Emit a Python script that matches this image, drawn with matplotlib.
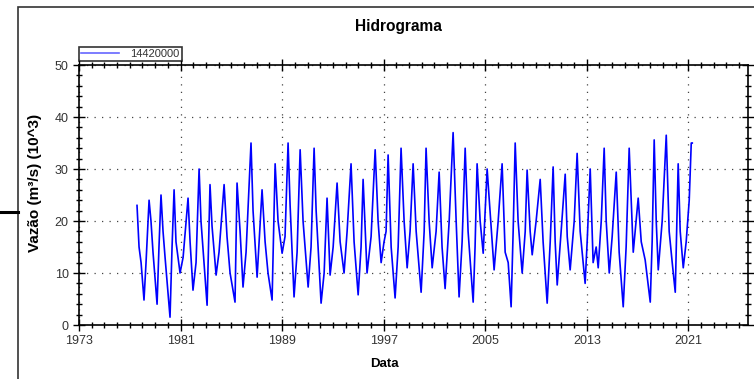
import matplotlib
matplotlib.use("Agg")
import matplotlib.pyplot as plt
from matplotlib.ticker import MultipleLocator
from matplotlib.patches import Rectangle
from matplotlib.lines import Line2D

plt.rcParams['font.family'] = ['Liberation Sans', 'DejaVu Sans']

# estacao 14420000 - vazao (m3/s, x 10^3)
anos = [1977.57, 1977.73, 1977.89, 1978.12, 1978.28, 1978.52, 1978.67, 1978.83, 1979.15, 1979.30,
        1979.46, 1979.62, 1979.78, 1980.17, 1980.33, 1980.49, 1980.64, 1980.96, 1981.20, 1981.59,
        1981.75, 1981.98, 1982.22, 1982.46, 1982.61, 1982.85, 1983.09, 1983.17, 1983.32, 1983.48,
        1983.80, 1984.03, 1984.43, 1984.66, 1984.90, 1985.29, 1985.45, 1985.69, 1985.92, 1986.16,
        1986.55, 1986.71, 1987.03, 1987.42, 1987.66, 1987.89, 1988.21, 1988.45, 1988.68, 1989.00,
        1989.23, 1989.47, 1989.63, 1989.94, 1990.18, 1990.42, 1990.65, 1991.05, 1991.28, 1991.52,
        1991.68, 1992.07, 1992.31, 1992.54, 1992.78, 1993.02, 1993.33, 1993.57, 1993.88, 1994.12,
        1994.43, 1994.67, 1994.99, 1995.22, 1995.38, 1995.69, 1996.01, 1996.33, 1996.56, 1996.80,
        1997.03, 1997.19, 1997.35, 1997.59, 1997.90, 1998.14, 1998.37, 1998.61, 1998.85, 1999.08,
        1999.32, 1999.56, 1999.95, 2000.19, 2000.34, 2000.58, 2000.82, 2001.13, 2001.37, 2001.60,
        2001.84, 2002.16, 2002.47, 2002.71, 2002.94, 2003.18, 2003.42, 2003.65, 2004.05, 2004.20,
        2004.36, 2004.60, 2004.84, 2005.15, 2005.39, 2005.70, 2006.02, 2006.33, 2006.57, 2006.81,
        2007.04, 2007.20, 2007.36, 2007.59, 2007.91, 2008.15, 2008.30, 2008.54, 2008.70, 2009.01,
        2009.33, 2009.56, 2009.88, 2010.12, 2010.35, 2010.51, 2010.67, 2010.98, 2011.30, 2011.46,
        2011.69, 2012.01, 2012.24, 2012.48, 2012.87, 2013.03, 2013.27, 2013.50, 2013.74, 2013.90,
        2014.14, 2014.37, 2014.53, 2014.77, 2015.00, 2015.32, 2015.55, 2015.87, 2016.10, 2016.34,
        2016.66, 2017.05, 2017.29, 2017.60, 2018.00, 2018.15, 2018.31, 2018.47, 2018.63, 2018.94,
        2019.26, 2019.49, 2019.73, 2019.97, 2020.20, 2020.36, 2020.60, 2020.83, 2021.07, 2021.23,
        2021.31]
vazao = [23, 15, 12, 4.8, 12, 24, 20, 14, 4, 15,
         25, 18, 13, 1.5, 15, 26, 16, 10, 13, 24.4,
         16, 6.7, 12, 30, 20, 12, 3.8, 12, 27, 19,
         9.6, 14, 27, 17, 10, 4.4, 27.3, 18, 7.3, 14,
         35, 22, 9.2, 26, 16, 10, 4.8, 31, 20, 13.8,
         17, 35, 23, 5.4, 14, 33.7, 20, 7.3, 15, 34,
         22, 4.2, 10, 24.4, 9.6, 15, 27.3, 16, 10, 18,
         31, 16, 5.8, 15, 28, 10, 17, 33.7, 20, 12,
         16, 18, 32.7, 15, 5.2, 15, 34, 20, 11, 18,
         31, 18, 6.3, 18, 34, 20, 11, 18, 29.4, 15,
         7, 20, 37, 20, 5.4, 16, 34, 18, 4.4, 15,
         31, 20, 13.8, 30, 21.5, 10.6, 20, 31, 14, 12,
         3.5, 18, 35, 20, 10, 18, 29.8, 18, 13.5, 20,
         28, 16, 4.2, 16, 30.4, 16, 7.7, 18, 29, 17,
         10.6, 20, 33, 18, 8, 16, 30, 12, 15, 11,
         20, 34, 20, 10, 17, 29.4, 14, 3.5, 15, 34,
         14, 24.4, 16, 12.5, 4.4, 16, 35.6, 20, 10.6, 20,
         36.5, 18, 12, 6.3, 31, 18, 11, 16, 24, 35,
         35]

fig = plt.figure(figsize=(7.54, 3.79), dpi=100)

# moldura da janela e traco lateral
fig.patches.append(Rectangle((18 / 754, -0.1), 1.0, 1 - 7 / 379 + 0.1, transform=fig.transFigure,
                             fill=False, edgecolor='#333333', linewidth=1.2))
fig.lines.append(Line2D([0, 18 / 754], [1 - 212 / 379, 1 - 212 / 379], transform=fig.transFigure,
                        color='black', linewidth=2.2))

ax = fig.add_axes([79 / 754, 1 - 325 / 379, (748 - 79) / 754, (325 - 65) / 379])
ax.plot(anos, vazao, color='#0000ff', linewidth=1.2, label='14420000')

ax.set_xlim(1973, 2025.7)
ax.set_ylim(0, 50)
ax.xaxis.set_minor_locator(MultipleLocator(1))
ax.yaxis.set_major_locator(MultipleLocator(10))
ax.yaxis.set_minor_locator(MultipleLocator(2))
ax.set_xticks(range(1973, 2022, 8))
ax.set_xticklabels([str(a) for a in range(1973, 2022, 8)])

ax.tick_params(which='both', direction='inout', top=True, right=True, labelsize=9,
               labelcolor='#333333', color='black')
ax.tick_params(which='major', length=8, width=1)
ax.tick_params(which='minor', length=5, width=1)
for s in ax.spines.values():
    s.set_linewidth(1.2)

ax.grid(True, which='major', color='#444444', linestyle=(0, (1, 5)), linewidth=0.9)

fig.text(398 / 754, 1 - 27 / 379, 'Hidrograma', ha='center', va='center', fontsize=11.2,
         fontweight='bold')
fig.text(384 / 754, 1 - 364 / 379, 'Data', ha='center', va='center', fontsize=9.5, fontweight='bold')
fig.text(35 / 754, 1 - 183 / 379, 'Vazão (m³/s) (10^3)', ha='center', va='center', rotation=90,
         fontsize=11, fontweight='bold')

leg = ax.legend(loc='lower left', bbox_to_anchor=(79 / 754, 1 - 61 / 379), bbox_transform=fig.transFigure,
                fontsize=8, frameon=True, fancybox=False, borderpad=0.2, handlelength=3.4,
                borderaxespad=0, handletextpad=1.0)
leg.get_frame().set_edgecolor('black')
leg.get_frame().set_linewidth(1.2)
leg.get_lines()[0].set_color('#6666ff')
leg.get_texts()[0].set_color('#333333')

fig.savefig('out.png', dpi=100)
